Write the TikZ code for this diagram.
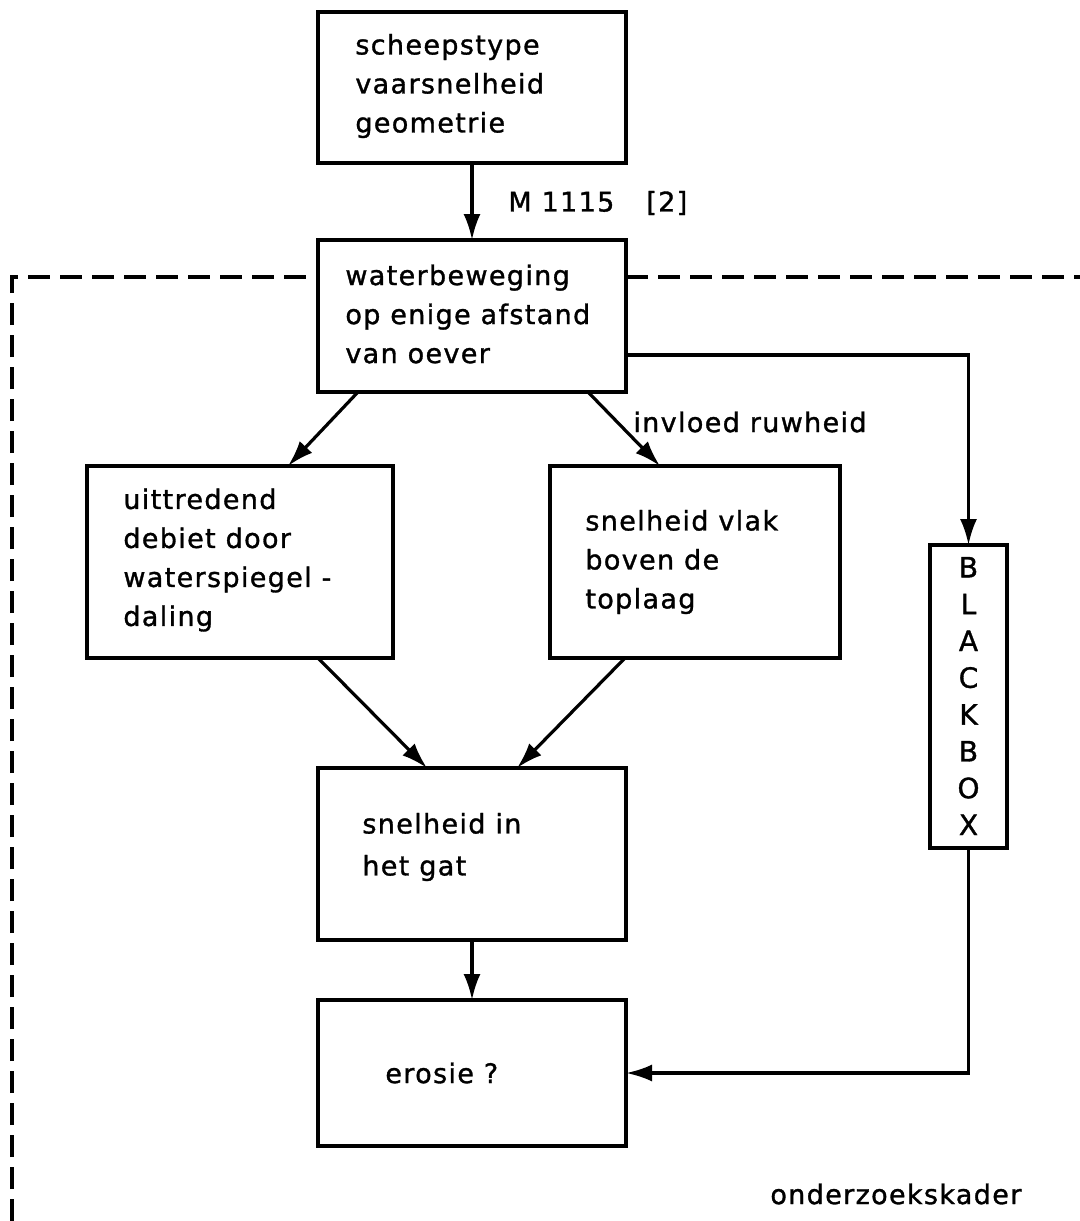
\documentclass[tikz,border=0pt]{standalone}
\usepackage{fontspec}
\setmainfont{DejaVu Sans}[LetterSpace=5,FakeBold=1.2]
\usetikzlibrary{arrows.meta,calc}
\begin{document}
\begin{tikzpicture}[x=0.5pt,y=-0.5pt,
  box/.style={draw, line width=2.2pt, inner sep=0pt, outer sep=0pt},
  txt/.style={anchor=west, inner sep=0pt, align=left, font=\fontsize{13.5pt}{19.5pt}\selectfont},
  conn/.style={line width=1.6pt, -{Latex[length=13pt,width=8.5pt]}},
  kader/.style={line width=2pt, dash pattern=on 11pt off 5pt}]
\useasboundingbox (0,0) rectangle (1080,1221);

% boxes
\node[box, minimum width=154pt, minimum height=75.5pt] (b1) at (472,87.5) {};
\node[box, minimum width=154pt, minimum height=76pt] (b2) at (472,316) {};
\node[box, minimum width=153pt, minimum height=96pt] (b3) at (240,562) {};
\node[box, minimum width=145pt, minimum height=96pt] (b4) at (695,562) {};
\node[box, minimum width=154pt, minimum height=86pt] (b5) at (472,854) {};
\node[box, minimum width=154pt, minimum height=73pt] (b6) at (472,1073) {};
\node[box, minimum width=38.5pt, minimum height=151.5pt] (bb) at (968.5,696.5) {};

% texts
\node[txt] (t1) at (355,86) {scheepstype\\vaarsnelheid\\geometrie};
\node[txt] (t2) at (345,314) {waterbeweging\\op enige afstand\\van oever};
\node[txt] (t3) at (123,560) {uittredend\\debiet door\\waterspiegel -\\daling};
\node[txt] (t4) at (585,562) {snelheid vlak\\boven de\\toplaag};
\node[txt, font=\fontsize{13.5pt}{21pt}\selectfont] (t5) at (362,847) {snelheid in\\het gat};
\node[txt] (t6) at (385,1073) {erosie ?};
\node[inner sep=0pt, align=center, font=\fontsize{14pt}{18.4pt}\selectfont] (tb) at (968.5,696) {B\\L\\A\\C\\K\\B\\O\\X};

% labels
\node[txt] (l1) at (508,203) {M 1115\hspace{16pt}[2]};
\node[txt] (l2) at (633,422) {invloed ruwheid};
\node[txt] (l3) at (770,1194) {onderzoekskader};

% connectors
\draw[conn] (b1.south) -- (b2.north);
\draw[conn] ($(b2.south west)+(40,0)$) -- ($(b3.north west)+(201,0)$);
\draw[conn] ($(b2.south west)+(270,0)$) -- ($(b4.north west)+(110,0)$);
\draw[conn] ($(b3.south west)+(231,0)$) -- ($(b5.north west)+(109,0)$);
\draw[conn] ($(b4.south west)+(75,0)$) -- ($(b5.north west)+(199,0)$);
\draw[conn] (b5.south) -- (b6.north);
\coordinate (r1) at ($(b2.south east)+(0,-37)$);
\draw[conn] (r1) -| (bb.north);
\draw[conn] (bb.south) |- (b6.east);

% dashed frame
\coordinate (fb) at (12,1221);
\coordinate (fc) at (12,277);
\coordinate (fr) at (1080,277);
\draw[kader] (fb) -- (fc) -- (fc -| b2.west);
\draw[kader] (fc -| b2.east) -- (fr);
\end{tikzpicture}
\end{document}
